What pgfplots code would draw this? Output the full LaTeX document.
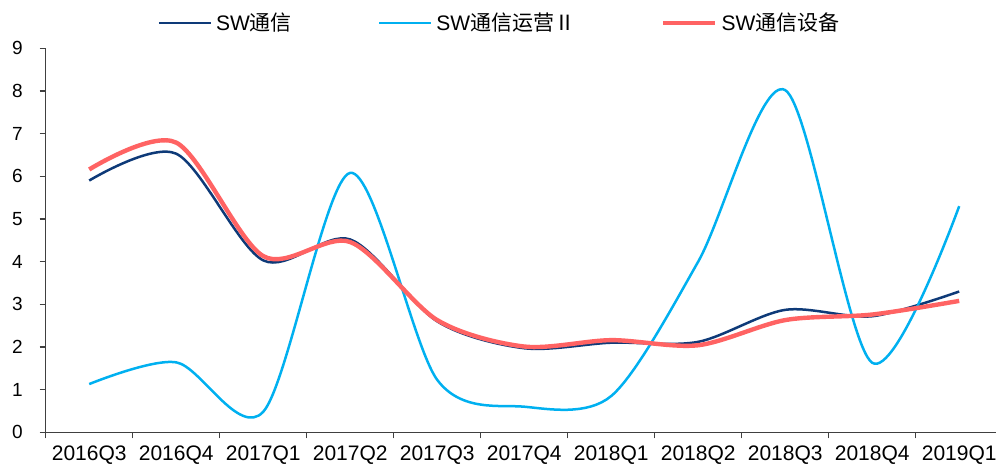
\documentclass[border=0pt]{standalone}
\usepackage{fontspec}
\setmainfont{Liberation Sans}
\newfontfamily\cjk{Noto Sans CJK SC}
\usepackage{pgfplots}
\usepackage{pgfplotstable}
\pgfplotsset{compat=1.18}
\definecolor{navy}{HTML}{0E3A78}
\definecolor{lblue}{HTML}{00B0F0}
\definecolor{lred}{HTML}{FF6363}
\pgfplotstableread{
x y
0 5.90
1 6.53
2 4.03
3 4.52
4 2.60
5 1.97
6 2.10
7 2.12
8 2.87
9 2.72
10 3.30
}\tongxin
\pgfplotstableread{
x y
0 1.13
1 1.64
2 0.48
3 6.08
4 1.23
5 0.60
6 0.85
7 4.00
8 8.02
9 1.63
10 5.30
}\yunying
\pgfplotstableread{
x y
0 6.16
1 6.79
2 4.13
3 4.46
4 2.63
5 2.01
6 2.16
7 2.04
8 2.63
9 2.76
10 3.08
}\shebei
\begin{document}
\begin{tikzpicture}
\useasboundingbox (0,0) rectangle (498pt,233pt);
\clip (0,0) rectangle (498pt,233pt);
\begin{axis}[
  at={(22.85pt,16.85pt)}, anchor=south west,
  scale only axis, width=475.15pt, height=192pt,
  xmin=-0.5, xmax=10.423, ymin=0, ymax=9,
  axis x line*=bottom, axis y line*=left,
  axis line style={black!75, line width=0.65pt},
  clip=false,
  xtick={0,...,10},
  xticklabels={2016Q3,2016Q4,2017Q1,2017Q2,2017Q3,2017Q4,2018Q1,2018Q2,2018Q3,2018Q4,2019Q1},
  minor xtick={-0.5,0.5,...,9.5},
  ytick={0,...,9},
  tick align=outside,
  major tick length=3pt, minor tick length=3pt,
  major x tick style={draw=none},
  every tick/.style={black!75, line width=0.65pt},
  minor x tick style={black!75, line width=0.65pt},
  /pgf/number format/assume math mode=true,
  xticklabel style={font=\fontsize{10.5}{12}\selectfont, text=black},
  yticklabel style={font=\fontsize{9.5}{11}\selectfont, text=black, xshift=-5pt},
  legend columns=3,
  legend style={draw=none, fill=none, at={(axis description cs:0.4786,1.066)}, anchor=center,
    font=\fontsize{10.5}{12}\selectfont, inner sep=0pt,
    /tikz/every even column/.append style={column sep=41pt}},
  legend cell align=left,
  legend image code/.code={\draw[#1] (0pt,0pt) -- (26pt,0pt);},
]
\addplot[navy, line width=1.25pt, smooth] table {\tongxin};
\addlegendentry{SW{\cjk 通信}}
\addplot[lblue, line width=1.25pt, smooth] table {\yunying};
\addlegendentry{SW{\cjk 通信运营Ⅱ}}
\addplot[lred, line width=2.2pt, smooth] table {\shebei};
\addlegendentry{SW{\cjk 通信设备}}
\end{axis}
\end{tikzpicture}
\end{document}
